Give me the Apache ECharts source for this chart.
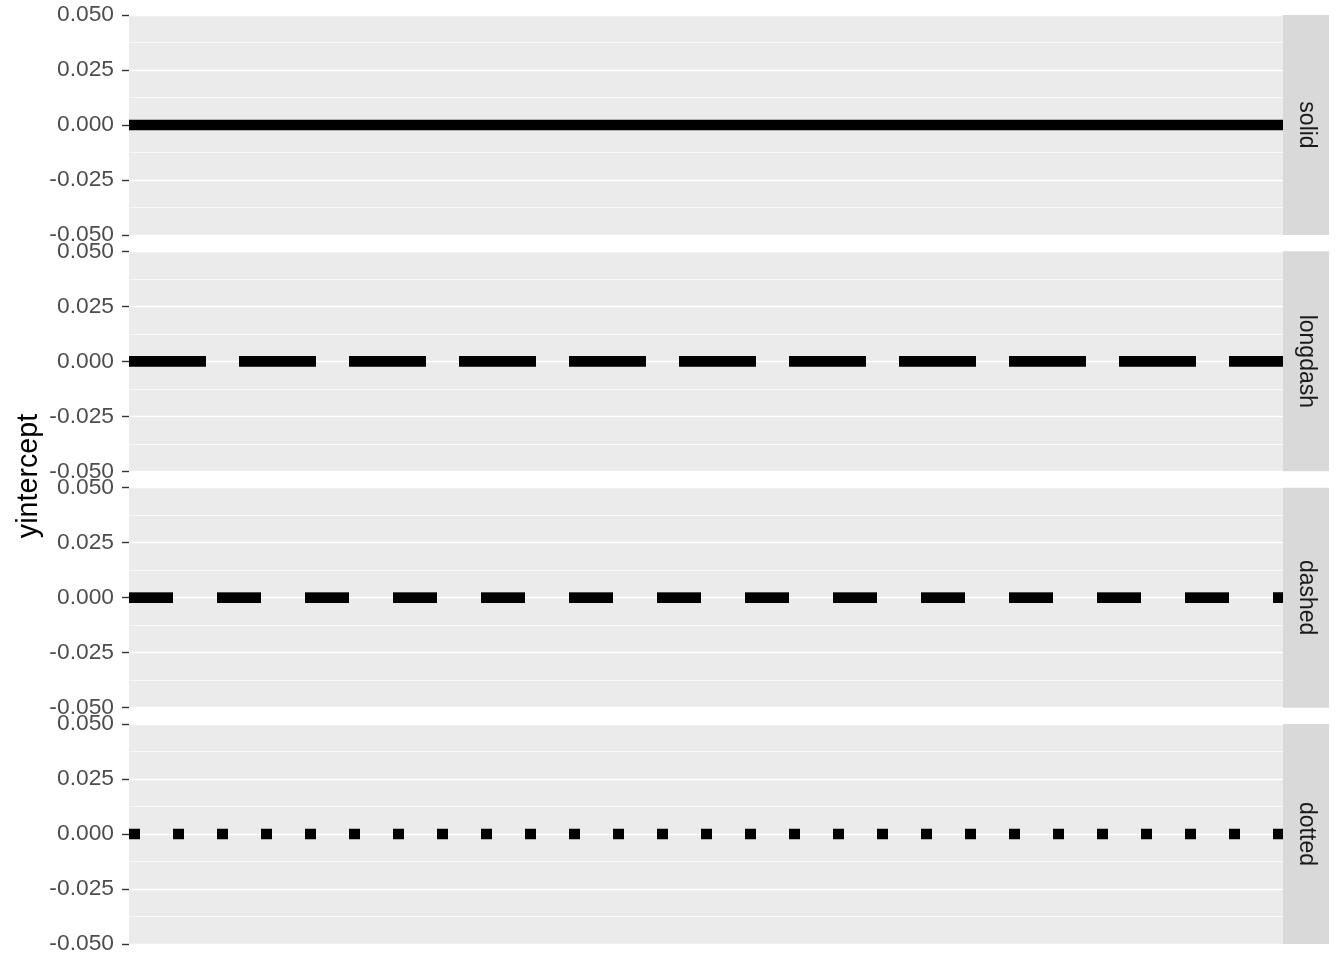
<!DOCTYPE html>
<html>
<head>
<meta charset="utf-8">
<script src="https://cdn.jsdelivr.net/npm/echarts@6/dist/echarts.min.js"></script>
<style>html,body{margin:0;padding:0;background:#fff;}#c{width:1344px;height:960px;}</style>
</head>
<body>
<div id="c"></div>
<script>
// Data
var linetypes = ['solid', 'longdash', 'dashed', 'dotted'];
var yintercepts = [0, 0, 0, 0];
var yTicks = [-0.05, -0.025, 0, 0.025, 0.05];
var yTitle = 'yintercept';

// Styles
var dashStyles = { solid: 'solid', longdash: [77, 33], dashed: [44, 44], dotted: [11, 33] };
var panelTops = [15, 251.33, 487.67, 724];
var panelH = 220, left = 129, right = 1283, stripW = 46;
var font = '"Liberation Sans", Arial, sans-serif';

var chart = echarts.init(document.getElementById('c'), null, { renderer: 'canvas' });
var grids = [], xAxes = [], yAxes = [], series = [], graphics = [];
linetypes.forEach(function (lt, i) {
  grids.push({ left: left, top: panelTops[i], width: right - left, height: panelH,
    show: true, backgroundColor: '#EBEBEB', borderWidth: 0, containLabel: false });
  xAxes.push({ gridIndex: i, type: 'value', min: 0, max: 1, show: false });
  yAxes.push({ gridIndex: i, type: 'value', min: yTicks[0], max: yTicks[yTicks.length - 1], interval: 0.025,
    axisLine: { show: false },
    axisTick: { show: true, length: 7, lineStyle: { color: '#333333', width: 1.4 } },
    axisLabel: { show: true, margin: 15, color: '#4D4D4D', fontSize: 22.8, fontFamily: font,
      showMinLabel: true, showMaxLabel: true, hideOverlap: false,
      formatter: function (v) { return (Math.abs(v) < 1e-12 ? 0 : v).toFixed(3); } },
    splitLine: { show: true, lineStyle: { color: '#FFFFFF', width: 1.4 } },
    minorTick: { show: false, splitNumber: 2 },
    minorSplitLine: { show: true, lineStyle: { color: '#FFFFFF', width: 0.7 } }
  });
  series.push({ type: 'line', xAxisIndex: i, yAxisIndex: i, symbol: 'none', silent: true,
    animation: false, clip: true,
    data: [[0, yintercepts[i]], [1, yintercepts[i]]],
    lineStyle: { color: '#000000', width: 10.7, type: dashStyles[lt], cap: 'butt' } });
  graphics.push({ type: 'rect', shape: { x: right, y: panelTops[i], width: stripW, height: panelH },
    style: { fill: '#D9D9D9' }, silent: true });
  graphics.push({ type: 'text', x: right + stripW / 2, y: panelTops[i] + panelH / 2, rotation: -Math.PI / 2,
    style: { text: lt, fill: '#1A1A1A', font: '23px ' + font, align: 'center', verticalAlign: 'middle' } });
});
graphics.push({ type: 'text', x: 29, y: 476, rotation: Math.PI / 2,
  style: { text: yTitle, fill: '#000000', font: '28.7px ' + font, align: 'center', verticalAlign: 'middle' } });

chart.setOption({
  animation: false,
  backgroundColor: '#FFFFFF',
  grid: grids, xAxis: xAxes, yAxis: yAxes, series: series, graphic: graphics
});
</script>
</body>
</html>
